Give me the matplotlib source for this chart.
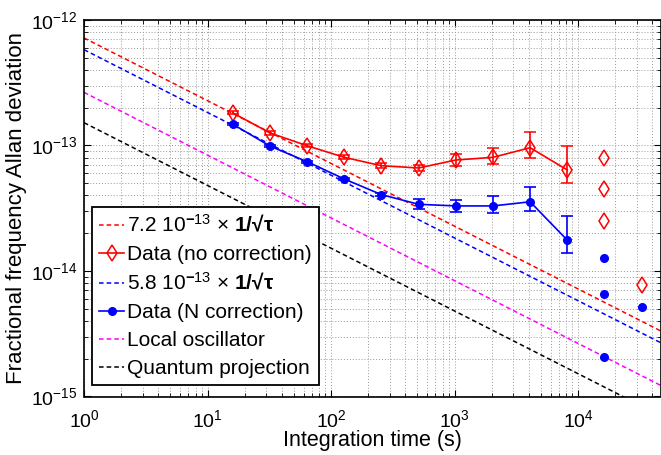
import numpy as np
import matplotlib
matplotlib.use('Agg')
import matplotlib.pyplot as plt

plt.rcParams['font.family'] = ['Liberation Sans', 'DejaVu Sans']
plt.rcParams['mathtext.fontset'] = 'custom'
plt.rcParams['mathtext.rm'] = 'Liberation Sans'
plt.rcParams['mathtext.it'] = 'Liberation Sans:italic'
plt.rcParams['mathtext.bf'] = 'Liberation Sans:bold'

# Averaging times (s)
tau = [16, 32, 64, 128, 256, 512, 1024, 2048, 4096, 8192]

# Data without correction
red_adev = [1.82e-13, 1.26e-13, 9.96e-14, 8.05e-14, 6.9e-14, 6.62e-14, 7.66e-14, 8.05e-14, 9.6e-14, 6.38e-14]
red_err_lo = [0.5e-14, 0.4e-14, 0.3e-14, 0.25e-14, 0.25e-14, 0.35e-14, 0.8e-14, 0.9e-14, 1.6e-14, 1.4e-14]
red_err_hi = [0.6e-14, 0.45e-14, 0.35e-14, 0.3e-14, 0.3e-14, 0.4e-14, 0.9e-14, 1.45e-14, 3.1e-14, 3.6e-14]

# Data with N correction
blue_adev = [1.48e-13, 9.9e-14, 7.43e-14, 5.41e-14, 4.06e-14, 3.4e-14, 3.3e-14, 3.3e-14, 3.56e-14, 1.76e-14]
blue_err_lo = [0.3e-14, 0.2e-14, 0.15e-14, 0.12e-14, 0.12e-14, 0.3e-14, 0.33e-14, 0.41e-14, 0.57e-14, 0.36e-14]
blue_err_hi = [0.3e-14, 0.2e-14, 0.15e-14, 0.12e-14, 0.12e-14, 0.33e-14, 0.38e-14, 0.66e-14, 1.14e-14, 1.0e-14]

# Isolated points at long averaging times
red_extra_tau = [16384, 16384, 16384, 32768]
red_extra_adev = [7.9e-14, 4.5e-14, 2.5e-14, 7.8e-15]
blue_extra_tau = [16384, 16384, 16384, 32768]
blue_extra_adev = [1.28e-14, 6.56e-15, 2.07e-15, 5.2e-15]

# 1/sqrt(tau) coefficients
red_coef = 7.2e-13
blue_coef = 5.8e-13
lo_coef = 2.65e-13
qpn_coef = 1.52e-13

xmax = 10 ** 4.672
t = np.logspace(0, np.log10(xmax), 200)

fig = plt.figure(figsize=(6.61, 4.55), dpi=100)
ax = fig.add_axes([84 / 661, 1 - 396.5 / 455, 1 - 84 / 661, (396.5 - 20) / 455])

dash = (3, 2)
fs = 15

red_style = dict(color='red', lw=1.2, marker='d', ms=8.5, mfc='none', mec='red', mew=1.1)
blue_style = dict(color='blue', lw=1.2, marker='o', ms=5.5, mfc='blue', mec='blue')

l1, = ax.plot(t, red_coef / np.sqrt(t), color='red', lw=1.1, dashes=dash)
ax.errorbar(tau, red_adev, yerr=[red_err_lo, red_err_hi], capsize=4, capthick=1.2, **red_style)
l2, = ax.plot([], [], **red_style)
l3, = ax.plot(t, blue_coef / np.sqrt(t), color='blue', lw=1.1, dashes=dash)
ax.errorbar(tau, blue_adev, yerr=[blue_err_lo, blue_err_hi], capsize=4, capthick=1.2, **blue_style)
l4, = ax.plot([], [], **blue_style)
l5, = ax.plot(t, lo_coef / np.sqrt(t), color='magenta', lw=1.1, dashes=dash)
l6, = ax.plot(t, qpn_coef / np.sqrt(t), color='black', lw=1.1, dashes=dash)

ax.plot(red_extra_tau, red_extra_adev, ls='none', marker='d', ms=8.5, mfc='none', mec='red', mew=1.1)
ax.plot(blue_extra_tau, blue_extra_adev, ls='none', marker='o', ms=5.5, mfc='blue', mec='blue')

ax.set_xscale('log')
ax.set_yscale('log')
ax.set_xlim(1, xmax)
ax.set_ylim(1e-15, 1e-12)

ax.grid(True, which='both', color='#999999', ls=(0, (1, 2)), lw=0.7)
ax.tick_params(which='both', direction='in', top=True, right=True, labelsize=14)
ax.tick_params(which='major', length=5)
ax.tick_params(which='minor', length=3)
ax.tick_params(axis='x', pad=9)
ax.tick_params(axis='y', pad=5)
for s in ax.spines.values():
    s.set_linewidth(1.2)

ax.set_xlabel('Integration time (s)', fontsize=15.5)
ax.xaxis.set_label_coords(0.5, -0.09)
ax.set_ylabel('Fractional frequency Allan deviation', fontsize=16)
ax.yaxis.set_label_coords(-0.098, 0.5)

labels = [r'7.2 10$^{\mathbf{-}13}$ $\times$ $\mathbf{1/√\tau}$',
          'Data (no correction)',
          r'5.8 10$^{\mathbf{-}13}$ $\times$ $\mathbf{1/√\tau}$',
          'Data (N correction)',
          'Local oscillator',
          'Quantum projection']
leg = ax.legend([l1, l2, l3, l4, l5, l6], labels, loc='lower left',
                bbox_to_anchor=(0.014, 0.03), borderaxespad=0, fontsize=fs,
                fancybox=False, framealpha=1, edgecolor='black',
                handlelength=1.2, handletextpad=0.15, labelspacing=0.42, borderpad=0.35)
leg.get_frame().set_linewidth(1.3)

plt.savefig('out.png', dpi=100)
